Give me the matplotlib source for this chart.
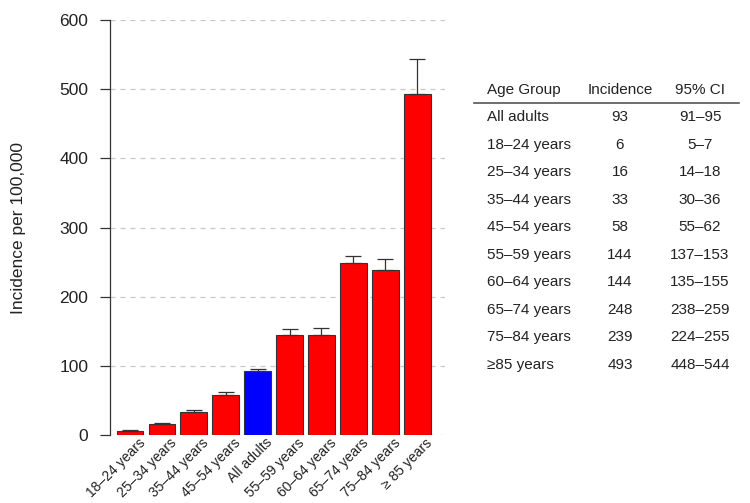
import matplotlib
matplotlib.use("Agg")
import matplotlib.pyplot as plt
from matplotlib.lines import Line2D
import matplotlib.transforms as mtransforms
import numpy as np

plt.rcParams['font.family'] = ['Liberation Sans', 'DejaVu Sans']

# Bar chart data
bar_labels = ["18–24 years", "25–34 years", "35–44 years", "45–54 years", "All adults",
              "55–59 years", "60–64 years", "65–74 years", "75–84 years", "\u2265 85 years"]
bar_values = [6, 16, 33, 58, 93, 144, 144, 248, 239, 493]
bar_upper = [7, 18, 36, 62, 95, 153, 155, 259, 255, 544]
bar_colors = ["#ff0000"] * 4 + ["#0000ff"] + ["#ff0000"] * 5

# Table data
table_header = ["Age Group", "Incidence", "95% CI"]
table_groups = ["All adults", "18–24 years", "25–34 years", "35–44 years", "45–54 years",
                "55–59 years", "60–64 years", "65–74 years", "75–84 years", "\u226585 years"]
table_incidence = ["93", "6", "16", "33", "58", "144", "144", "248", "239", "493"]
table_ci = ["91–95", "5–7", "14–18", "30–36", "55–62", "137–153", "135–155",
            "238–259", "224–255", "448–544"]

W, H = 750, 503
fig = plt.figure(figsize=(7.5, 5.03), dpi=100)
ax = fig.add_axes([110 / W, (H - 435) / H, 335 / W, 415 / H])

x = np.arange(len(bar_values))
vals = np.array(bar_values)
upp = np.array(bar_upper)
ax.bar(x, vals, width=0.84, color=bar_colors, edgecolor="#333333", linewidth=0.8, zorder=3)
ax.errorbar(x, vals, yerr=[np.zeros_like(vals), upp - vals], fmt='none',
            ecolor="#333333", elinewidth=0.9, capsize=5.5, capthick=0.9, zorder=4)

ax.set_xlim(-0.627, 9.87)
ax.set_ylim(0, 600)
ax.set_yticks(np.arange(0, 601, 100))
ax.tick_params(axis='y', labelsize=12.5, length=7.5, width=0.9, color="#333333", pad=8,
               labelcolor="#222222")
ax.set_xticks(x)
ax.set_xticklabels(bar_labels, rotation=45, ha='right', rotation_mode='anchor', fontsize=10,
                   color="#222222")
ax.tick_params(axis='x', length=0, pad=0.5)
offset = mtransforms.ScaledTranslation(8 / 100, 0, fig.dpi_scale_trans)
for lab in ax.get_xticklabels():
    lab.set_transform(lab.get_transform() + offset)
for s in ['top', 'right', 'bottom']:
    ax.spines[s].set_visible(False)
ax.spines['left'].set_color("#333333")
ax.spines['left'].set_linewidth(0.9)
ax.yaxis.grid(True, linestyle=(0, (4, 4)), color="#c8c8c8", linewidth=0.9, zorder=0)
ax.set_axisbelow(True)
ax.set_ylabel("Incidence per 100,000", fontsize=12.5, labelpad=24, color="#222222")

# Table
def fx(px):
    return px / W

def fy(py):
    return 1 - py / H

tfs = 11
tc = "#222222"
fig.text(fx(487), fy(90), table_header[0], fontsize=tfs, ha='left', va='center', color=tc)
fig.text(fx(620), fy(90), table_header[1], fontsize=tfs, ha='center', va='center', color=tc)
fig.text(fx(700), fy(90), table_header[2], fontsize=tfs, ha='center', va='center', color=tc)
fig.add_artist(Line2D([fx(474), fx(739)], [fy(103), fy(103)], color="#555555", linewidth=1.2))

row0 = 117
step = (365 - 117) / 9
for i in range(len(table_groups)):
    yy = fy(row0 + i * step)
    fig.text(fx(487), yy, table_groups[i], fontsize=tfs, ha='left', va='center', color=tc)
    fig.text(fx(620), yy, table_incidence[i], fontsize=tfs, ha='center', va='center', color=tc)
    fig.text(fx(700), yy, table_ci[i], fontsize=tfs, ha='center', va='center', color=tc)

fig.savefig("out.png", dpi=100)
